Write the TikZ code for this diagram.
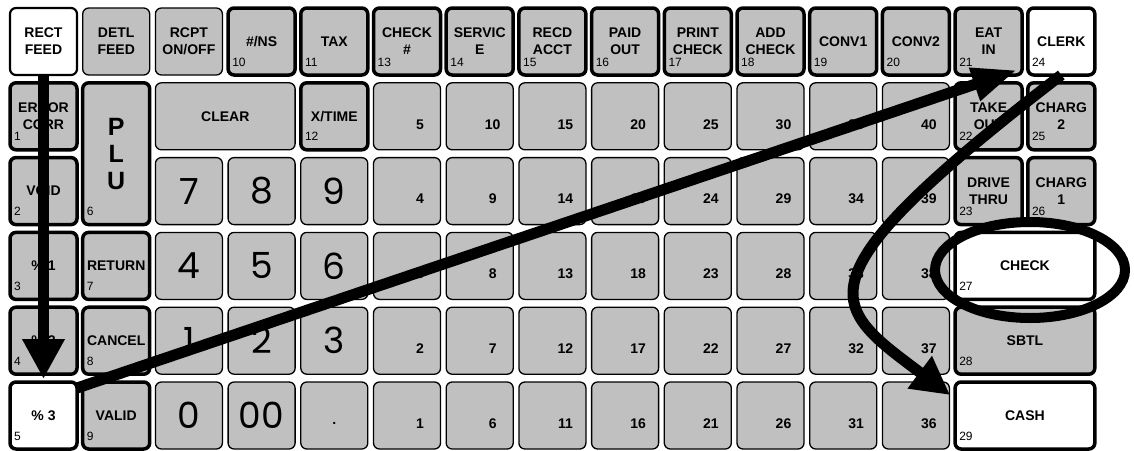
\documentclass[tikz,border=0pt]{standalone}
\usepackage{fontspec}
\setmainfont{Liberation Sans}
\newfontfamily\bigdigfont{Poppins}
\usetikzlibrary{arrows.meta,calc}
\definecolor{keygray}{HTML}{C0C0C0}
\newcommand{\keylblfont}{\bfseries\fontsize{14}{17}\selectfont}
\tikzset{
  keyshape/.style={draw=black, rounded corners=6pt, inner sep=0pt, outer sep=0pt, align=center, font=\keylblfont},
  thinkey/.style={keyshape, fill=keygray, line width=1.3pt},
  thickkey/.style={keyshape, fill=keygray, line width=3.5pt},
  whitethick/.style={keyshape, fill=white, line width=3.5pt},
  whitemid/.style={keyshape, fill=white, line width=2.2pt},
  bignum/.style={font=\bigdigfont\fontsize{36}{36}\selectfont},
  plufont/.style={font=\bfseries\fontsize{25}{27}\selectfont},
  numlbl/.style={font=\fontsize{12}{12}\selectfont, inner sep=0pt, anchor=base west},
  grnum/.style={font=\bfseries\fontsize{14}{14}\selectfont, inner sep=0pt},
  bigarrow/.style={line width=11pt, -{Triangle[length=40pt,width=40pt]}},
  slantarrow/.style={line width=11pt, -{Triangle[length=45pt,width=32pt]}},
  curvearrow/.style={line width=11pt, -{Triangle[length=38pt,width=38pt]}},
  ring/.style={line width=10pt},
}
\newcommand{\kkey}[7]{%
  \pgfmathsetmacro{\kx}{10+72.7*#3}%
  \pgfmathsetmacro{\ky}{8+74.8*#4}%
  \pgfmathsetmacro{\kw}{67+72.7*(#5-1)}%
  \pgfmathsetmacro{\kh}{67+74.8*(#6-1)}%
  \node[#1, minimum width=\kw pt, minimum height=\kh pt, anchor=north west] (#2) at (\kx,\ky) {#7};%
}
\newcommand{\knum}[2]{\node[numlbl] (#1-n) at ([shift={(4pt,9pt)}]#1.south west) {#2};}
\begin{document}
\begin{tikzpicture}[x=1pt,y=-1pt]
\fill[white] (0,0) rectangle (1134,450);
\useasboundingbox (0,0) rectangle (1134,450);
% row 0
\kkey{whitemid}{rectfeed}{0}{0}{1}{1}{RECT\\FEED}
\kkey{thinkey}{detlfeed}{1}{0}{1}{1}{DETL\\FEED}
\kkey{thinkey}{rcpt}{2}{0}{1}{1}{RCPT\\ON/OFF}
\kkey{thickkey}{ns}{3}{0}{1}{1}{\#/NS} \knum{ns}{10}
\kkey{thickkey}{tax}{4}{0}{1}{1}{TAX} \knum{tax}{11}
\kkey{thickkey}{checkno}{5}{0}{1}{1}{CHECK\\\#} \knum{checkno}{13}
\kkey{thickkey}{service}{6}{0}{1}{1}{SERVIC\\E} \knum{service}{14}
\kkey{thickkey}{recd}{7}{0}{1}{1}{RECD\\ACCT} \knum{recd}{15}
\kkey{thickkey}{paidout}{8}{0}{1}{1}{PAID\\OUT} \knum{paidout}{16}
\kkey{thickkey}{printchk}{9}{0}{1}{1}{PRINT\\CHECK} \knum{printchk}{17}
\kkey{thickkey}{addchk}{10}{0}{1}{1}{ADD\\CHECK} \knum{addchk}{18}
\kkey{thickkey}{conva}{11}{0}{1}{1}{CONV1} \knum{conva}{19}
\kkey{thickkey}{convb}{12}{0}{1}{1}{CONV2} \knum{convb}{20}
\kkey{thickkey}{eatin}{13}{0}{1}{1}{EAT\\IN} \knum{eatin}{21}
\kkey{whitethick}{clerk}{14}{0}{1}{1}{CLERK} \knum{clerk}{24}
% row 1
\kkey{thickkey}{errcorr}{0}{1}{1}{1}{ERROR\\CORR} \knum{errcorr}{1}
\kkey{thickkey,plufont}{plu}{1}{1}{1}{2}{P\\L\\U} \knum{plu}{6}
\kkey{thinkey}{clear}{2}{1}{2}{1}{CLEAR}
\kkey{thickkey}{xtime}{4}{1}{1}{1}{X/TIME} \knum{xtime}{12}
\kkey{thickkey}{takeout}{13}{1}{1}{1}{TAKE\\OUT} \knum{takeout}{22}
\kkey{thickkey}{chargb}{14}{1}{1}{1}{CHARG\\2} \knum{chargb}{25}
% row 2
\kkey{thickkey}{void}{0}{2}{1}{1}{VOID} \knum{void}{2}
\kkey{thinkey,bignum}{dseven}{2}{2}{1}{1}{7}
\kkey{thinkey,bignum}{deight}{3}{2}{1}{1}{8}
\kkey{thinkey,bignum}{dnine}{4}{2}{1}{1}{9}
\kkey{thickkey}{drive}{13}{2}{1}{1}{DRIVE\\THRU} \knum{drive}{23}
\kkey{thickkey}{chargc}{14}{2}{1}{1}{CHARG\\1} \knum{chargc}{26}
% row 3
\kkey{thickkey}{pcta}{0}{3}{1}{1}{\% 1} \knum{pcta}{3}
\kkey{thickkey}{return}{1}{3}{1}{1}{RETURN} \knum{return}{7}
\kkey{thinkey,bignum}{dfour}{2}{3}{1}{1}{4}
\kkey{thinkey,bignum}{dfive}{3}{3}{1}{1}{5}
\kkey{thinkey,bignum}{dsix}{4}{3}{1}{1}{6}
\kkey{whitethick}{check}{13}{3}{2}{1}{CHECK} \knum{check}{27}
% row 4
\kkey{thickkey}{pctb}{0}{4}{1}{1}{\% 2} \knum{pctb}{4}
\kkey{thickkey}{cancel}{1}{4}{1}{1}{CANCEL} \knum{cancel}{8}
\kkey{thinkey,bignum}{done}{2}{4}{1}{1}{1}
\kkey{thinkey,bignum}{dtwo}{3}{4}{1}{1}{2}
\kkey{thinkey,bignum}{dthree}{4}{4}{1}{1}{3}
\kkey{thickkey}{sbtl}{13}{4}{2}{1}{SBTL} \knum{sbtl}{28}
% row 5
\kkey{whitethick}{pctc}{0}{5}{1}{1}{\% 3} \knum{pctc}{5}
\kkey{thickkey}{valid}{1}{5}{1}{1}{VALID} \knum{valid}{9}
\kkey{thinkey,bignum}{dzero}{2}{5}{1}{1}{0}
\kkey{thinkey,bignum}{dzz}{3}{5}{1}{1}{00}
\kkey{thinkey}{dot}{4}{5}{1}{1}{}
\node[grnum] (dot-t) at ([shift={(0pt,-8pt)}]dot.center) {.};
\kkey{whitethick}{cash}{13}{5}{2}{1}{CASH} \knum{cash}{29}
% PLU grid
\foreach \c in {5,...,12}{
  \foreach \r in {1,...,5}{
    \pgfmathtruncatemacro{\v}{5*(\c-5)+6-\r}
    \kkey{thinkey}{p\v}{\c}{\r}{1}{1}{}
    \node[grnum] (p\v-t) at ([shift={(13pt,-8pt)}]p\v.center) {\v};
  }
}
% highlight ring and arrows
\draw[ring] (1030,270) ellipse [x radius=95pt, y radius=48pt];
\draw[bigarrow] (rectfeed.south) -- ([shift={(0pt,3pt)}]pctc.north);
\draw[slantarrow] ([shift={(0pt,-6pt)}]pctc.north east) -- ([shift={(-5pt,5pt)}]eatin.south east);
\draw[curvearrow] (clerk.south) .. controls (791,283) and (830,305) .. ([shift={(-5pt,-13pt)}]cash.north west);
\end{tikzpicture}
\end{document}
